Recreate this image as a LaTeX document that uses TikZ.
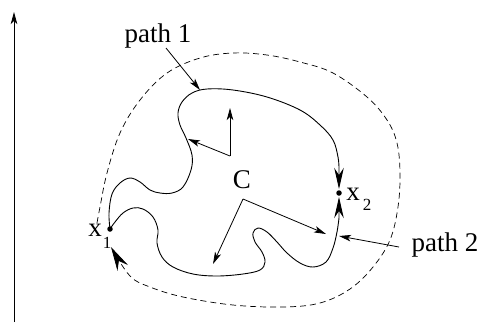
\documentclass[tikz,border=0pt]{standalone}
\usepackage{fontspec}
\setmainfont{Liberation Serif}
\usetikzlibrary{arrows.meta}
\begin{document}
\begin{tikzpicture}[x=1pt,y=-1pt,
  curve/.style={line width=0.9pt},
  vec/.style={line width=0.8pt,-{Stealth[length=12pt,width=6.5pt,inset=3pt]}},
  bigtip/.style={-{Stealth[length=21pt,width=9.5pt,inset=7pt]}},
  lbl/.style={inner sep=0pt,font=\fontsize{27}{29}\selectfont},
  sub/.style={inner sep=0pt,font=\fontsize{17}{19}\selectfont},
  dot/.style={circle,fill=black,inner sep=0pt,minimum size=5.5pt}]
\useasboundingbox (0,0) rectangle (481,322);
% left axis
\coordinate (a0) at (14,322);
\coordinate (a1) at (14,12);
\draw[vec] (a0) -- (a1);
% points
\node[dot] (x1) at (110,229) {};
\node[dot] (x2) at (339,193) {};
\node[lbl] (x1l) at (95,230) {x};
\node[sub] (x1s) at (107,243) {1};
\node[lbl] (x2l) at (353,194) {x};
\node[sub] (x2s) at (367,205) {2};
\node[lbl] (C) at (242,180) {C};
\node[lbl] (p1) at (158,36) {path 1};
\node[lbl] (p2) at (445,245) {path 2};
% end points of the two paths next to x2
\coordinate (u1) at (339,189);
\coordinate (l1) at (339,197);
% path 1 (upper)
\draw[curve,bigtip] plot[smooth,tension=0.6] coordinates {(110,229) (109,213) (112,194) (120,183) (130,178) (140,182) (150,190) (160,193) (172,193) (183,187) (191,170) (192,155) (186,138) (180,125) (178,113) (182,102) (192,93) (207,89) (233,90) (267,97) (300,110) (320,125) (333,140) (338,157) (339,168)} -- (u1);
% path 2 (lower)
\draw[curve,bigtip] plot[smooth,tension=0.6] coordinates {(110,229) (115,222) (123,213) (133,208) (143,209) (153,217) (158,230) (157,243) (162,257) (173,267) (193,274) (217,276) (243,274) (260,270) (265,262) (262,252) (255,242) (253,233) (258,228) (267,232) (277,242) (287,253) (300,263) (313,267) (326,262) (333,248) (337,232) (339,218)} -- (l1);
% dashed return path
\draw[line width=0.7pt,dash pattern=on 6pt off 4pt,-{Stealth[length=24pt,width=12pt,inset=8pt]}] plot[smooth,tension=0.6] coordinates {(97,223) (100,207) (107,173) (120,133) (140,100) (167,73) (200,58) (233,53) (267,55) (300,62) (333,73) (367,97) (387,120) (397,143) (400,173) (398,207) (390,240) (373,267) (350,289) (320,303) (283,307) (233,305) (183,297) (150,287) (130,276) (111,247)};
% label arrows
\coordinate (p1t) at (200,90);
\coordinate (p1s) at (166,48);
\coordinate (p2t) at (339,236);
\coordinate (p2s) at (399,247);
\draw[vec] (p1s) -- (p1t);
\draw[vec] (p2s) -- (p2t);
% frame vectors at C
\coordinate (o1) at (230,156);
\coordinate (o1a) at (230,108);
\coordinate (o1b) at (188,139);
\draw[vec] (o1) -- (o1a);
\draw[vec] (o1) -- (o1b);
\coordinate (o2) at (243,199);
\coordinate (o2a) at (213,264);
\coordinate (o2b) at (326,234);
\draw[vec] (o2) -- (o2a);
\draw[vec] (o2) -- (o2b);
\end{tikzpicture}
\end{document}
